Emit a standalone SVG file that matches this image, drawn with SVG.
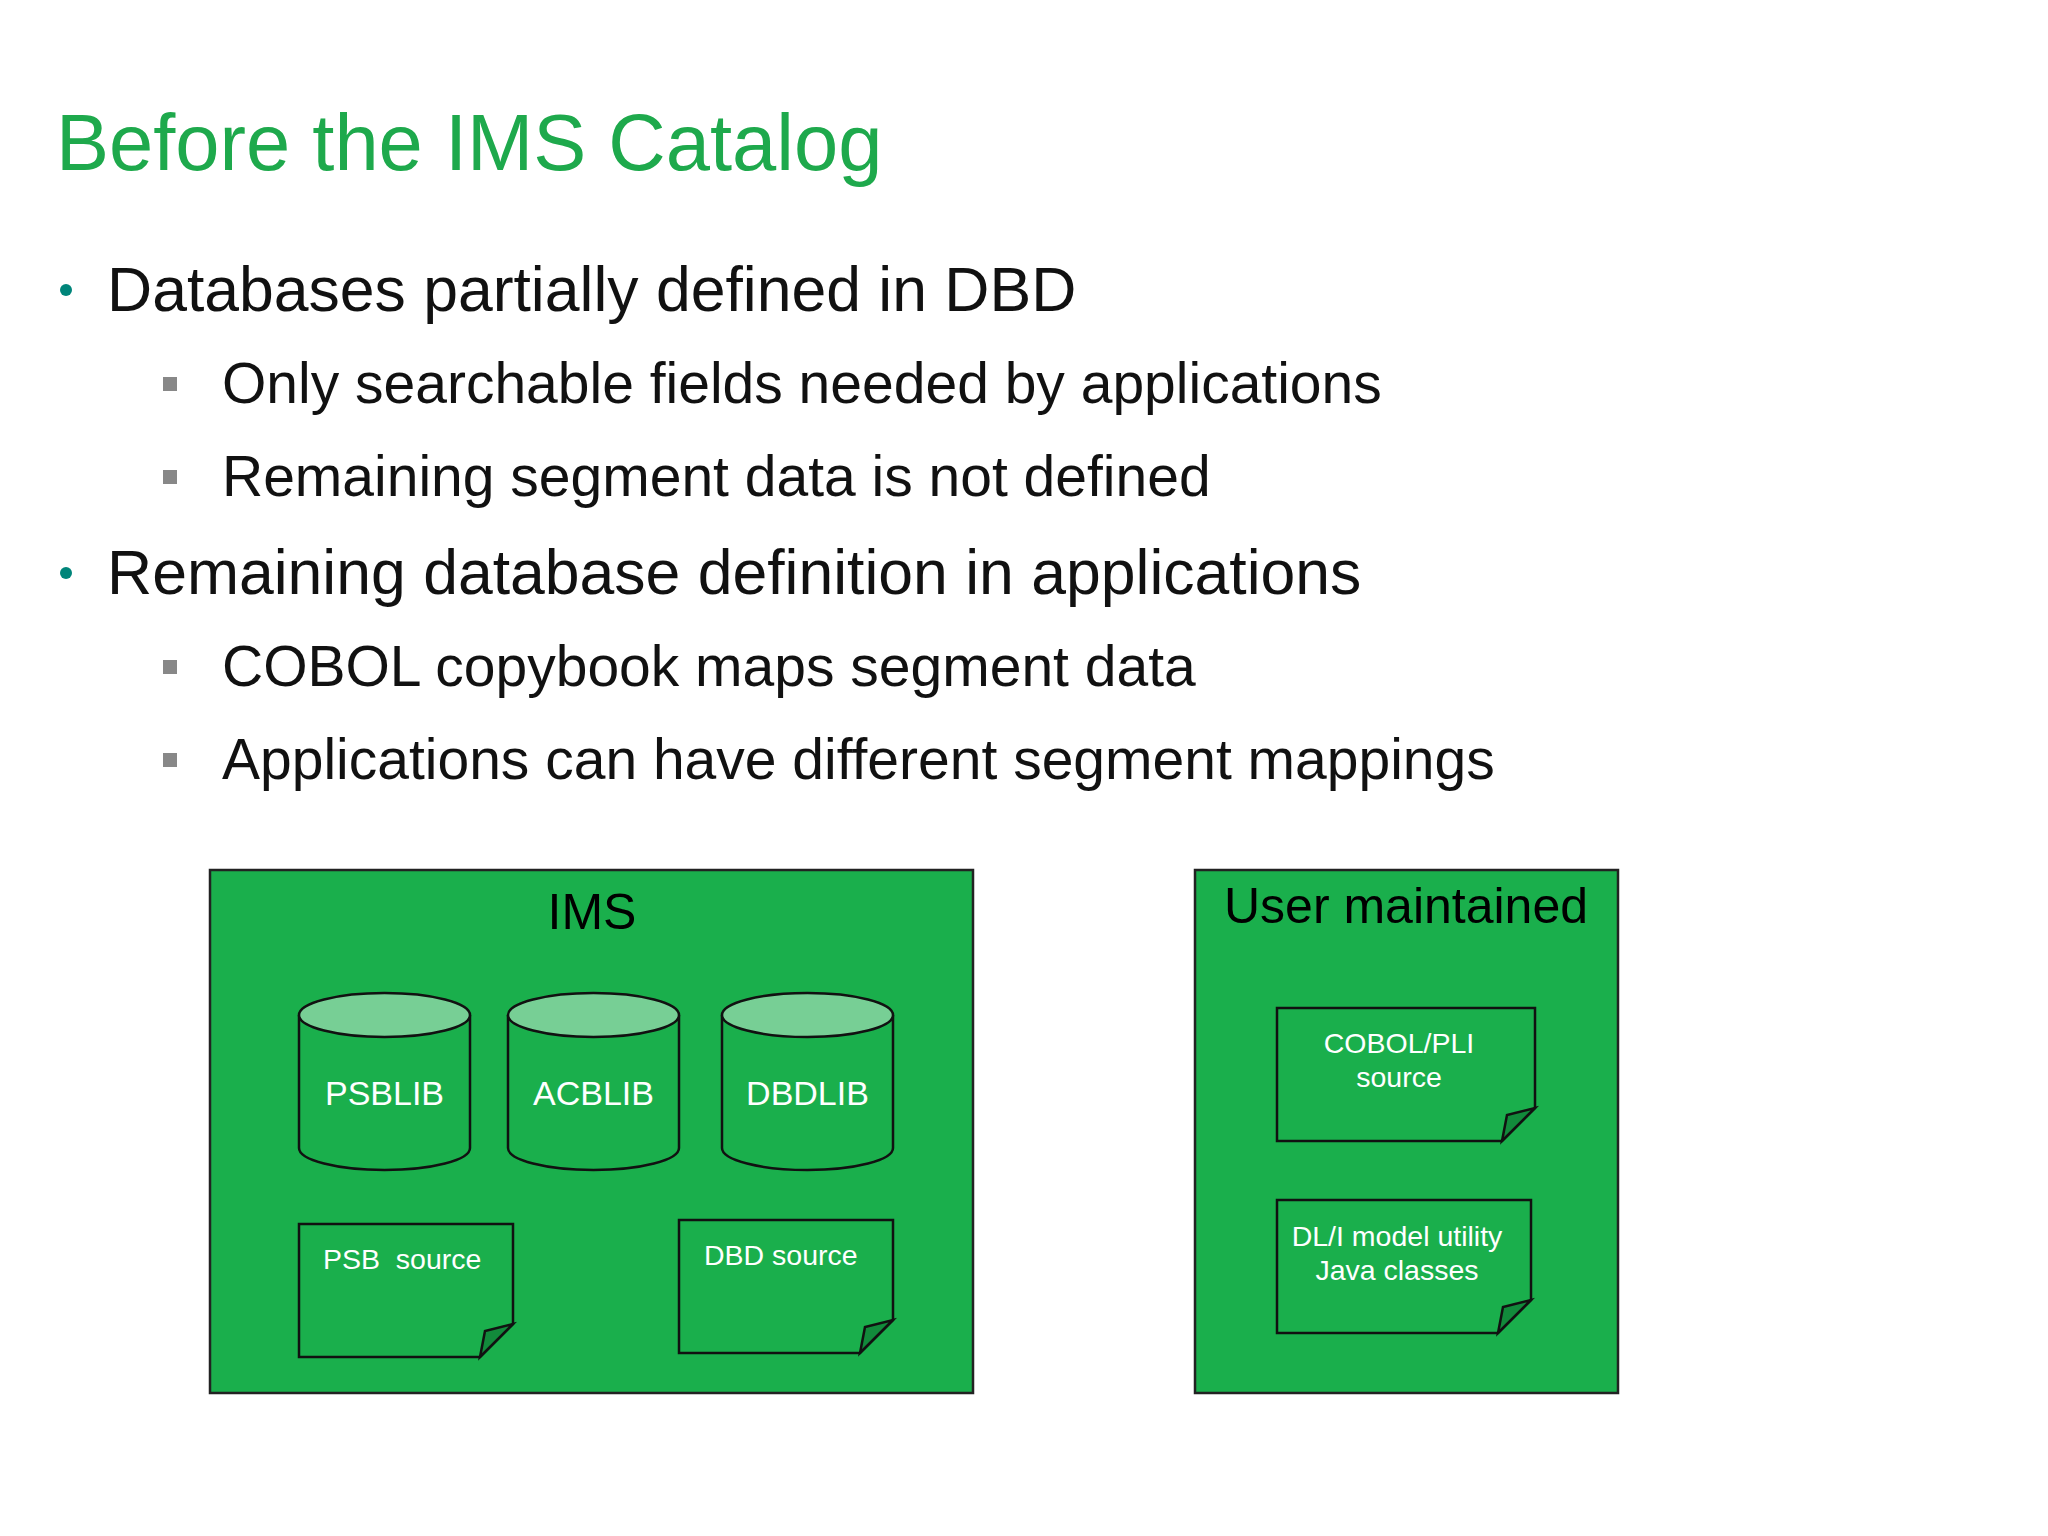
<svg xmlns="http://www.w3.org/2000/svg" width="2048" height="1536" viewBox="0 0 2048 1536">
<style>
text{font-family:"Liberation Sans",Arial,sans-serif}
.t{font-size:79.5px;fill:#1ea94c}
.b1{font-size:62.5px;fill:#111}
.b2{font-size:57px;fill:#111}
.box{fill:#1aaf4c;stroke:#222;stroke-width:2.5}
.cyl{fill:#1aaf4c;stroke:#111;stroke-width:2.5}
.top{fill:#77cf95;stroke:#111;stroke-width:2.5}
.lbl{font-size:34px;fill:#fff;text-anchor:middle}
.nt{font-size:28.5px;fill:#fff}
.hd{font-size:50px;fill:#000;text-anchor:middle}
.fold{fill:#128a3b;stroke:#111;stroke-width:2.5}
</style>
<rect width="2048" height="1536" fill="#fff"/>
<text class="t" x="56" y="170">Before the IMS Catalog</text>
<circle cx="66" cy="290" r="6" fill="#00857a"/>
<text class="b1" x="107" y="311">Databases partially defined in DBD</text>
<rect x="163" y="377" width="14" height="14" fill="#888"/>
<text class="b2" x="222" y="403">Only searchable fields needed by applications</text>
<rect x="163" y="470" width="14" height="14" fill="#888"/>
<text class="b2" x="222" y="496">Remaining segment data is not defined</text>
<circle cx="66" cy="573" r="6" fill="#00857a"/>
<text class="b1" x="107" y="594">Remaining database definition in applications</text>
<rect x="163" y="660" width="14" height="14" fill="#888"/>
<text class="b2" x="222" y="686">COBOL copybook maps segment data</text>
<rect x="163" y="753" width="14" height="14" fill="#888"/>
<text class="b2" x="222" y="779">Applications can have different segment mappings</text>

<g id="ims">
<rect class="box" x="210" y="870" width="763" height="523"/>
<text class="hd" x="592" y="929">IMS</text>
</g>
<g id="psblib">
<path class="cyl" d="M299 1015 V1148 A85.5 22 0 0 0 470 1148 V1015"/>
<ellipse class="top" cx="384.5" cy="1015" rx="85.5" ry="22"/>
<text class="lbl" x="384.5" y="1105">PSBLIB</text>
</g>
<g id="acblib">
<path class="cyl" d="M508 1015 V1148 A85.5 22 0 0 0 679 1148 V1015"/>
<ellipse class="top" cx="593.5" cy="1015" rx="85.5" ry="22"/>
<text class="lbl" x="593.5" y="1105">ACBLIB</text>
</g>
<g id="dbdlib">
<path class="cyl" d="M722 1015 V1148 A85.5 22 0 0 0 893 1148 V1015"/>
<ellipse class="top" cx="807.5" cy="1015" rx="85.5" ry="22"/>
<text class="lbl" x="807.5" y="1105">DBDLIB</text>
</g>
<g id="psbsrc">
<path class="cyl" d="M299 1224 H513 V1324 L480 1357 H299 Z"/>
<path class="fold" d="M513 1324 L480 1357 L485 1331 Z"/>
<text class="nt" x="323" y="1269" xml:space="preserve">PSB  source</text>
</g>
<g id="dbdsrc">
<path class="cyl" d="M679 1220 H893 V1320 L860 1353 H679 Z"/>
<path class="fold" d="M893 1320 L860 1353 L865 1327 Z"/>
<text class="nt" x="704" y="1265">DBD source</text>
</g>

<g id="user">
<rect class="box" x="1195" y="870" width="423" height="523"/>
<text class="hd" x="1406" y="923">User maintained</text>
</g>
<g id="cobol">
<path class="cyl" d="M1277 1008 H1535 V1108 L1502 1141 H1277 Z"/>
<path class="fold" d="M1535 1108 L1502 1141 L1507 1115 Z"/>
<text class="nt" x="1399" y="1053" text-anchor="middle">COBOL/PLI</text>
<text class="nt" x="1399" y="1087" text-anchor="middle">source</text>
</g>
<g id="dli">
<path class="cyl" d="M1277 1200 H1531 V1300 L1498 1333 H1277 Z"/>
<path class="fold" d="M1531 1300 L1498 1333 L1503 1307 Z"/>
<text class="nt" x="1397" y="1246" text-anchor="middle">DL/I model utility</text>
<text class="nt" x="1397" y="1280" text-anchor="middle">Java classes</text>
</g>
<g id="connectors"/>
</svg>
